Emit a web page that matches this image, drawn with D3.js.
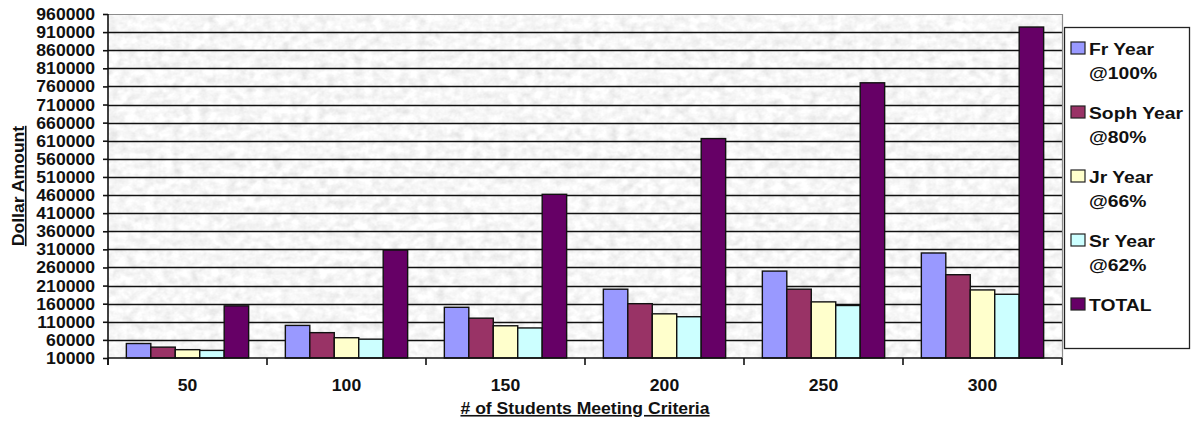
<!DOCTYPE html>
<html>
<head>
<meta charset="utf-8">
<script src="https://cdn.jsdelivr.net/npm/d3@7"></script>
<style>
  html, body { margin: 0; padding: 0; background: #ffffff; }
  svg { display: block; }
  text { font-family: "Liberation Sans", Arial, sans-serif; font-weight: bold; fill: #111; }
</style>
</head>
<body>
<svg id="chart" width="1194" height="421"></svg>
<script>
// Number of students meeting the criteria
const categories = ["50", "100", "150", "200", "250", "300"];

// Award dollars by class year and the combined total
const frYear   = [50000, 100000, 150000, 200000, 250000, 300000];
const sophYear = [40000, 80000, 120000, 160000, 200000, 240000];
const jrYear   = [33000, 66000, 99000, 132000, 165000, 198000];
const srYear   = [31000, 62000, 93000, 124000, 155000, 186000];
const total    = [154000, 308000, 462000, 616000, 770000, 924000];

const seriesNames  = ["Fr Year", "Soph Year", "Jr Year", "Sr Year", "TOTAL"];
const seriesSub    = ["@100%", "@80%", "@66%", "@62%", ""];
const seriesColors = ["#9999ff", "#993366", "#ffffcc", "#ccffff", "#660066"];

const yTicks = [10000, 60000, 110000, 160000, 210000, 260000, 310000, 360000, 410000,
                460000, 510000, 560000, 610000, 660000, 710000, 760000, 810000, 860000,
                910000, 960000];

const seriesValues = [frYear, sophYear, jrYear, srYear, total];

const svg = d3.select("#chart");

const plot = { left: 108, right: 1062, top: 14, bottom: 358 };

const y = d3.scaleLinear().domain([10000, 960000]).range([plot.bottom, plot.top]);
const x0 = d3.scaleBand().domain(categories).range([plot.left, plot.right]).padding(0);
const bw = x0.bandwidth();
const barW = bw / 6.5;               // five bars plus a 150% gap
const x1 = d3.scaleBand().domain(seriesNames)
  .range([0.75 * barW, bw - 0.75 * barW]).padding(0);

// Mottled grey plot-area fill
const defs = svg.append("defs");
const f = defs.append("filter").attr("id", "granite")
  .attr("x", 0).attr("y", 0).attr("width", 1).attr("height", 1);
f.append("feTurbulence").attr("type", "fractalNoise")
  .attr("baseFrequency", "0.11 0.13").attr("numOctaves", 3).attr("seed", 11).attr("result", "n");
f.append("feColorMatrix").attr("in", "n").attr("type", "matrix")
  .attr("values", "0.25 0.25 0 0 0.68  0.25 0.25 0 0 0.68  0.25 0.25 0 0 0.68  0 0 0 0 1");

svg.append("rect")
  .attr("x", plot.left).attr("y", plot.top)
  .attr("width", plot.right - plot.left).attr("height", plot.bottom - plot.top)
  .attr("fill", "#e9e9e9")
  .attr("filter", "url(#granite)");

// Horizontal gridlines
svg.append("g")
  .selectAll("line")
  .data(yTicks.filter(v => v > 10000 && v < 960000))
  .join("line")
  .attr("x1", plot.left).attr("x2", plot.right)
  .attr("y1", d => Math.round(y(d)) + 0.5).attr("y2", d => Math.round(y(d)) + 0.5)
  .attr("stroke", "#111").attr("stroke-width", 1.6);

// Plot-area border (top and right)
svg.append("path")
  .attr("d", `M${plot.left},${plot.top + 0.5}H${plot.right + 0.5}V${plot.bottom}`)
  .attr("fill", "none").attr("stroke", "#8c8c8c").attr("stroke-width", 1.2);

// Bars
const groups = svg.append("g")
  .selectAll("g")
  .data(categories)
  .join("g")
  .attr("transform", d => `translate(${x0(d)},0)`);

groups.selectAll("rect")
  .data((c, i) => seriesNames.map((s, k) => ({ s, v: seriesValues[k][i], color: seriesColors[k] })))
  .join("rect")
  .attr("x", d => x1(d.s))
  .attr("width", x1.bandwidth())
  .attr("y", d => y(d.v))
  .attr("height", d => y(10000) - y(d.v))
  .attr("fill", d => d.color)
  .attr("stroke", "#111").attr("stroke-width", 1.4);

// Value axis
const yAxis = d3.axisLeft(y).tickValues(yTicks).tickSize(5).tickPadding(8)
  .tickFormat(d3.format("d"));
const gy = svg.append("g").attr("transform", `translate(${plot.left},0)`).call(yAxis);
gy.select(".domain").remove();
gy.selectAll(".tick line").attr("stroke", "#111").attr("stroke-width", 1.6);
gy.selectAll(".tick text")
  .attr("x", null).attr("dy", null)
  .attr("transform", "translate(-13,5.5) scale(1.1,1)")
  .style("font-size", "16px").style("fill", "#111");
svg.append("line")
  .attr("x1", plot.left).attr("x2", plot.left)
  .attr("y1", plot.top).attr("y2", plot.bottom + 7)
  .attr("stroke", "#111").attr("stroke-width", 1.6);

// Category axis
svg.append("line")
  .attr("x1", plot.left).attr("x2", plot.right)
  .attr("y1", plot.bottom).attr("y2", plot.bottom)
  .attr("stroke", "#111").attr("stroke-width", 1.6);
const xAxis = d3.axisBottom(x0).tickSize(0).tickPadding(0);
const gx = svg.append("g").attr("transform", `translate(0,${plot.bottom})`).call(xAxis);
gx.select(".domain").remove();
gx.selectAll(".tick text")
  .attr("y", null).attr("dy", null)
  .attr("transform", "translate(0,33) scale(1.1,1)")
  .style("font-size", "16px").style("fill", "#111");
svg.append("g")
  .selectAll("line")
  .data(categories.map(c => x0(c)).concat([plot.right]))
  .join("line")
  .attr("x1", d => d).attr("x2", d => d)
  .attr("y1", plot.bottom).attr("y2", plot.bottom + 7)
  .attr("stroke", "#111").attr("stroke-width", 1.6);

// Axis titles (underlined)
svg.append("text")
  .attr("transform", `translate(${(plot.left + plot.right) / 2},414) scale(1.1,1)`)
  .attr("text-anchor", "middle")
  .style("font-size", "16px")
  .style("text-decoration", "underline")
  .text("# of Students Meeting Criteria");

svg.append("text")
  .attr("transform", `translate(24,${(plot.top + plot.bottom) / 2}) rotate(-90) scale(1.1,1)`)
  .attr("text-anchor", "middle")
  .style("font-size", "16px")
  .style("text-decoration", "underline")
  .text("Dollar Amount");

// Legend
const legend = svg.append("g");
legend.append("rect")
  .attr("x", 1064.5).attr("y", 27.5).attr("width", 125).attr("height", 321)
  .attr("fill", "#fff").attr("stroke", "#222").attr("stroke-width", 1.3);

const rowY = [48, 112, 176, 240, 304];
const items = legend.selectAll("g.item")
  .data(seriesNames)
  .join("g").attr("class", "item")
  .attr("transform", (d, i) => `translate(1071,${rowY[i]})`);
items.append("rect")
  .attr("x", 0).attr("y", -6).attr("width", 14).attr("height", 12)
  .attr("fill", (d, i) => seriesColors[i])
  .attr("stroke", "#222").attr("stroke-width", 1.2);
items.append("text")
  .attr("transform", "translate(18,6.5) scale(1.17,1)")
  .style("font-size", "16.5px")
  .text(d => d);
items.append("text")
  .attr("transform", "translate(18,30.5) scale(1.17,1)")
  .style("font-size", "16.5px")
  .text((d, i) => seriesSub[i]);
</script>
</body>
</html>
